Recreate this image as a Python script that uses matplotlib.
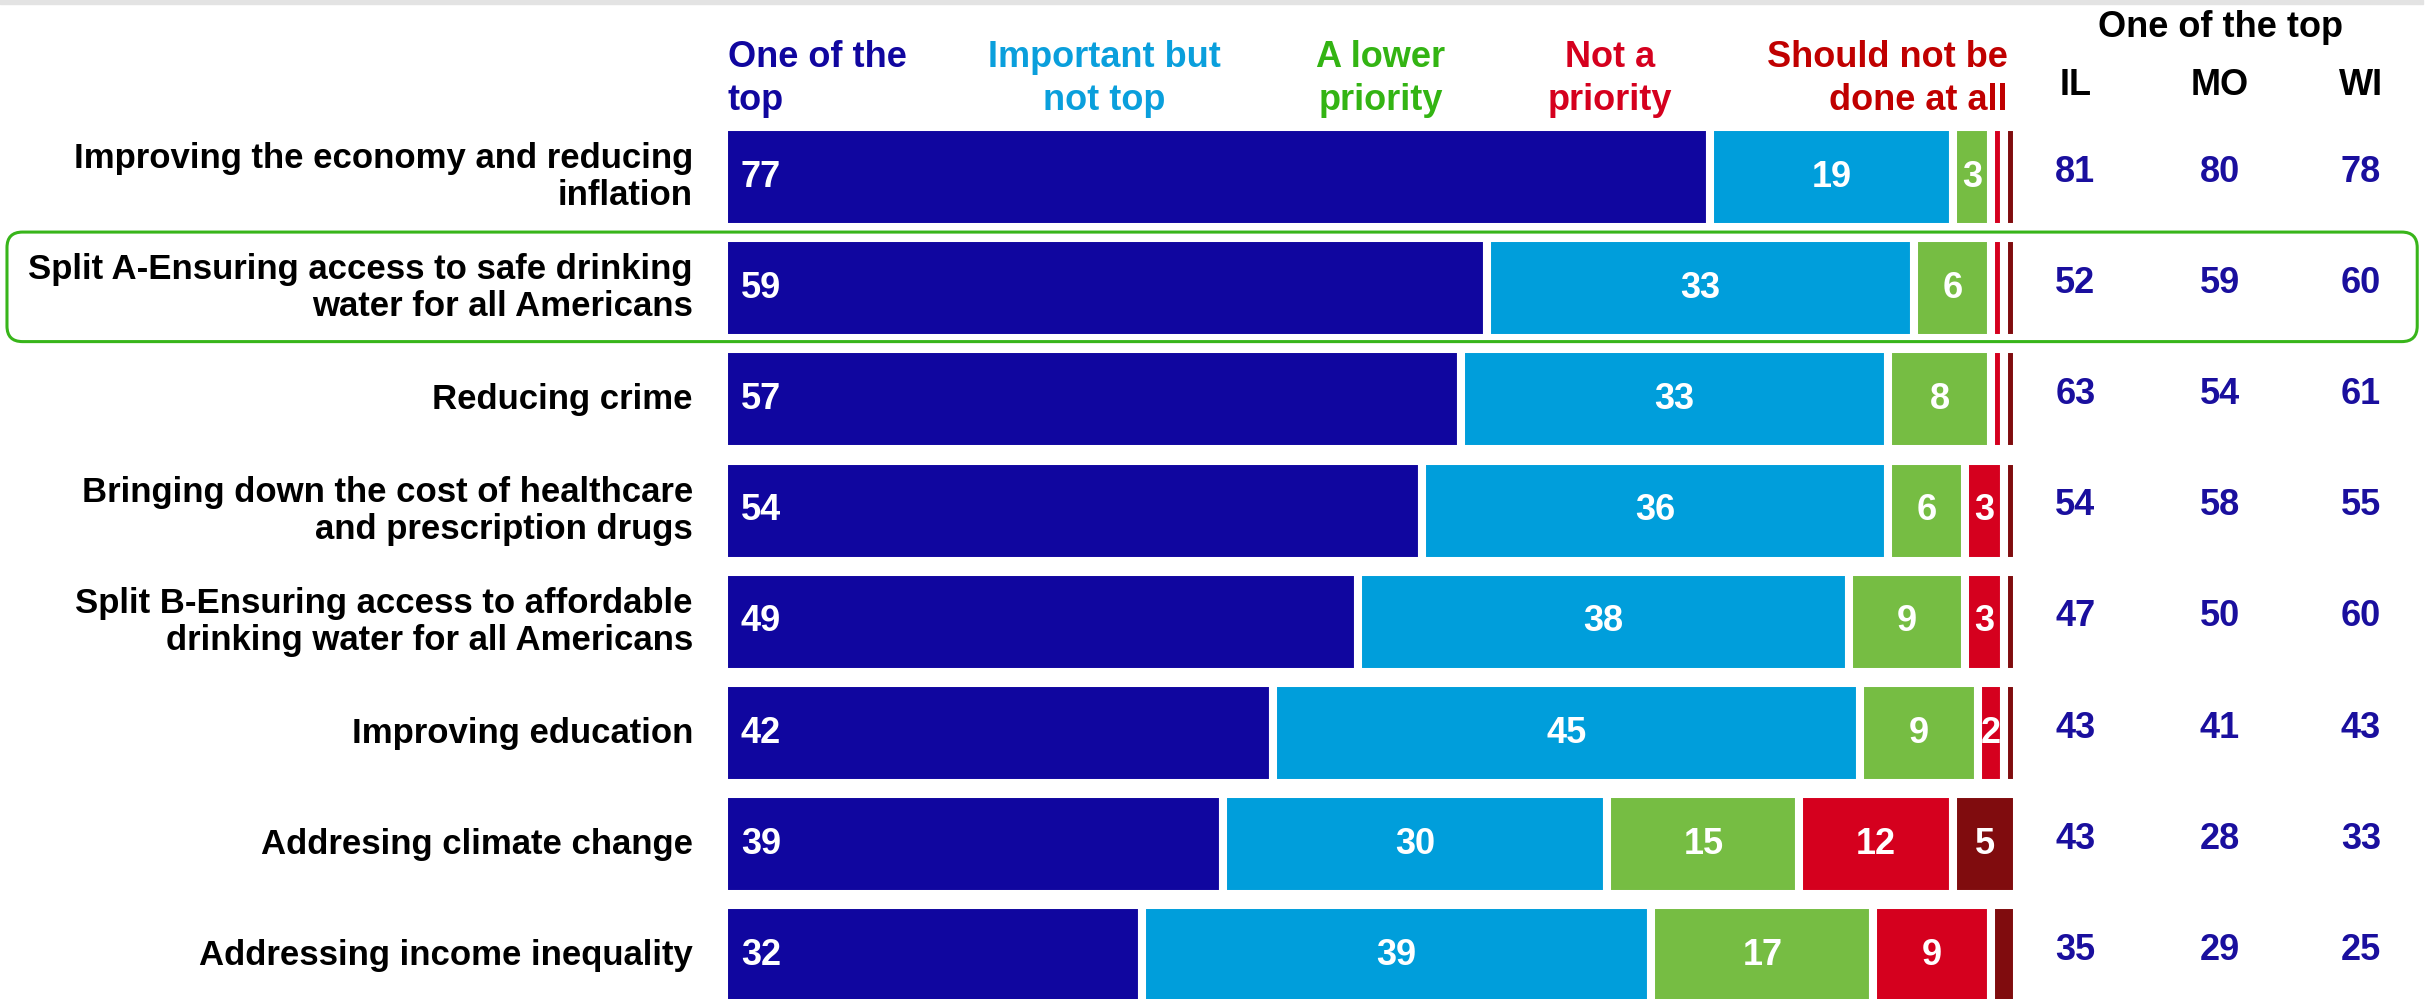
import numpy as np
import matplotlib.pyplot as plt
from matplotlib.patches import FancyBboxPatch, Rectangle

plt.rcParams['font.family'] = ['Liberation Sans', 'DejaVu Sans']
plt.rcParams['font.weight'] = 'bold'

# --- data ---
issues = [
    "Improving the economy and reducing\ninflation",
    "Split A-Ensuring access to safe drinking\nwater for all Americans",
    "Reducing crime",
    "Bringing down the cost of healthcare\nand prescription drugs",
    "Split B-Ensuring access to affordable\ndrinking water for all Americans",
    "Improving education",
    "Addresing climate change",
    "Addressing income inequality",
]
one_of_top = [77, 59, 57, 54, 49, 42, 39, 32]
important_not_top = [19, 33, 33, 36, 38, 45, 30, 39]
lower_priority = [3, 6, 8, 6, 9, 9, 15, 17]
not_priority = [1, 1, 1, 3, 3, 2, 12, 9]
not_done = [1, 1, 1, 1, 1, 1, 5, 2]

states = ["IL", "MO", "WI"]
il_top = [81, 52, 63, 54, 47, 43, 43, 35]
mo_top = [80, 59, 54, 58, 50, 41, 28, 29]
wi_top = [78, 60, 61, 55, 60, 43, 33, 25]

series = [one_of_top, important_not_top, lower_priority, not_priority, not_done]
bar_colors = ['#10069f', '#009edb', '#76bd43', '#d5001e', '#800c0e']
head_colors = ['#10069f', '#0a9fdc', '#33b413', '#d5001e', '#c00000']
headers = [("One of the", "top"), ("Important but", "not top"),
           ("A lower", "priority"), ("Not a", "priority"),
           ("Should not be", "done at all")]
min_label = [2, 2, 2, 2, 3]   # narrow segments carry no number
dark_blue = '#1a0f9e'

# --- figure ---
fig = plt.figure(figsize=(24.33, 9.99), dpi=100)
ax = fig.add_axes([0, 0, 1, 1])
ax.set_xlim(-55.99, 132.17)
ax.set_ylim(7.392, -1.592)
ax.axis('off')

y = np.arange(len(issues))
data = np.array(series, dtype=float)
shares = data / data.sum(axis=0) * 100   # each row fills the same width
left = np.zeros(len(issues))
for k in range(len(series)):
    ax.barh(y, shares[k], left=left, height=0.9, color=bar_colors[k],
            edgecolor='white', linewidth=5.8)
    for i in range(len(issues)):
        v = series[k][i]
        if v < min_label[k]:
            continue
        if k == 0:
            ax.text(left[i] + 1.3, y[i], str(v), ha='left', va='center',
                    color='white', fontsize=26, fontweight='bold')
        else:
            ax.text(left[i] + shares[k][i] / 2, y[i], str(v), ha='center',
                    va='center', color='white', fontsize=26, fontweight='bold')
    left += shares[k]

# category labels
for i, lab in enumerate(issues):
    ax.text(-2.4, y[i], lab, ha='right', va='center', fontsize=25,
            fontweight='bold', color='black', linespacing=1.15)

# column headers
head_x = [0.3, 29.4, 50.8, 68.5, 99.3]
head_ha = ['left', 'center', 'center', 'center', 'right']
for (l1, l2), hx, ha, c in zip(headers, head_x, head_ha, head_colors):
    ax.text(hx, -0.989, l1, ha=ha, va='baseline', fontsize=26,
            fontweight='bold', color=c)
    ax.text(hx, -0.60, l2, ha=ha, va='baseline', fontsize=26,
            fontweight='bold', color=c)

# state columns
state_x = [104.5, 115.7, 126.6]
ax.text(115.7, -1.259, "One of the top", ha='center', va='baseline',
        fontsize=26, fontweight='bold', color='black')
for sx, st, vals in zip(state_x, states, [il_top, mo_top, wi_top]):
    ax.text(sx, -0.737, st, ha='center', va='baseline', fontsize=26,
            fontweight='bold', color='black')
    for i, v in enumerate(vals):
        ax.text(sx, y[i] - 0.045, str(v), ha='center', va='center',
                fontsize=26, fontweight='bold', color=dark_blue)

# highlight around Split A row
box = FancyBboxPatch((-55.45, 0.495), 186.4, 0.985,
                     boxstyle="round,pad=0,rounding_size=1.2",
                     mutation_aspect=0.1163, fill=False,
                     edgecolor='#38b51a', linewidth=2.2, zorder=5)
ax.add_patch(box)

# thin grey band at the top
fig.patches.append(Rectangle((0, 1 - 4 / 999), 2423 / 2433, 4 / 999,
                             transform=fig.transFigure, color='#e3e3e3',
                             zorder=0))

fig.savefig("out.png", dpi=100)
